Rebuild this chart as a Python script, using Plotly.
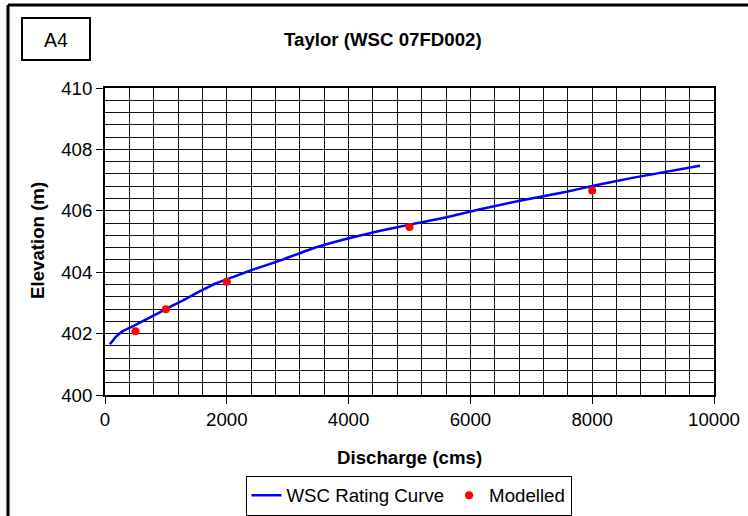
import plotly.graph_objects as go

# ---- data ----
curve_q = [80, 190, 300, 470, 740, 1010, 1290, 1560, 1830, 2110, 2380, 2650, 2930,
           3420, 3970, 4520, 5000, 5610, 6160, 6810, 7580, 8000, 8680, 9770]
curve_elev = [401.65, 401.92, 402.09, 402.25, 402.53, 402.81, 403.09, 403.38, 403.64,
              403.85, 404.05, 404.23, 404.42, 404.78, 405.09, 405.35, 405.55, 405.79,
              406.05, 406.33, 406.62, 406.81, 407.08, 407.47]
model_q = [500, 1000, 2000, 5000, 8000]
model_elev = [402.08, 402.79, 403.69, 405.47, 406.66]

W, H = 748, 516
ML, MR, MT, MB = 105, 34, 88, 121
PW, PH = W - ML - MR, H - MT - MB


def px(x):
    return (x - ML) / PW


def py(y):
    return (H - MB - y) / PH


FONT = "Arial, 'Liberation Sans', sans-serif"
FS = 18.67

fig = go.Figure()
fig.add_trace(go.Scatter(x=curve_q, y=curve_elev, mode="lines", name="WSC Rating Curve",
                         line=dict(color="#0000FF", width=2.5, shape="spline", smoothing=0.3)))
fig.add_trace(go.Scatter(x=model_q, y=model_elev, mode="markers", name="Modelled",
                         marker=dict(color="#FF0000", size=8)))

axis_common = dict(showline=True, linecolor="black", linewidth=2, mirror=True,
                   ticks="outside", ticklen=7, tickcolor="black", tickwidth=1,
                   showgrid=True, gridcolor="#111", gridwidth=1, zeroline=False,
                   tickfont=dict(family=FONT, size=FS, color="black"))

fig.update_xaxes(range=[0, 10000], dtick=2000, tick0=0, tickformat="d",
                 minor=dict(dtick=400, showgrid=True, gridcolor="#111", gridwidth=1, ticks=""),
                 **axis_common)
fig.update_yaxes(range=[400, 410], dtick=2, tick0=400, tickformat="d",
                 minor=dict(dtick=0.4, showgrid=True, gridcolor="#111", gridwidth=1, ticks=""),
                 **axis_common)

fig.update_layout(
    width=W, height=H,
    margin=dict(l=ML, r=MR, t=MT, b=MB, autoexpand=False),
    paper_bgcolor="white", plot_bgcolor="white",
    font=dict(family=FONT, size=FS, color="black"),
    showlegend=True,
    legend=dict(orientation="h", x=px(408.5), xanchor="center", y=py(495.5), yanchor="middle",
                bordercolor="black", borderwidth=1, bgcolor="white",
                font=dict(family=FONT, size=FS, color="black"), itemwidth=30,
                tracegroupgap=0),
    annotations=[
        dict(text="<b>Taylor (WSC 07FD002)</b>", xref="paper", yref="paper",
             x=px(383), y=py(40), xanchor="center", yanchor="middle", showarrow=False,
             font=dict(family=FONT, size=FS, color="black")),
        dict(text="A4", xref="paper", yref="paper",
             x=px(56), y=py(40), xanchor="center", yanchor="middle", showarrow=False,
             font=dict(family=FONT, size=19.5, color="black")),
        dict(text="<b>Discharge (cms)</b>", xref="paper", yref="paper",
             x=px(409), y=py(457), xanchor="center", yanchor="middle", showarrow=False,
             font=dict(family=FONT, size=FS, color="black")),
        dict(text="<b>Elevation (m)</b>", xref="paper", yref="paper",
             x=px(37), y=py(241), xanchor="center", yanchor="middle", showarrow=False,
             textangle=-90, font=dict(family=FONT, size=FS, color="black")),
    ],
    shapes=[
        dict(type="rect", xref="paper", yref="paper", x0=px(22), x1=px(90), y0=py(60), y1=py(18),
             line=dict(color="black", width=2)),
        dict(type="line", xref="paper", yref="paper", x0=px(8), x1=px(8), y0=py(5), y1=py(530),
             line=dict(color="black", width=3)),
        dict(type="line", xref="paper", yref="paper", x0=px(8), x1=px(760), y0=py(5), y1=py(5),
             line=dict(color="black", width=3)),
    ],
)

fig.write_html("out.html")
